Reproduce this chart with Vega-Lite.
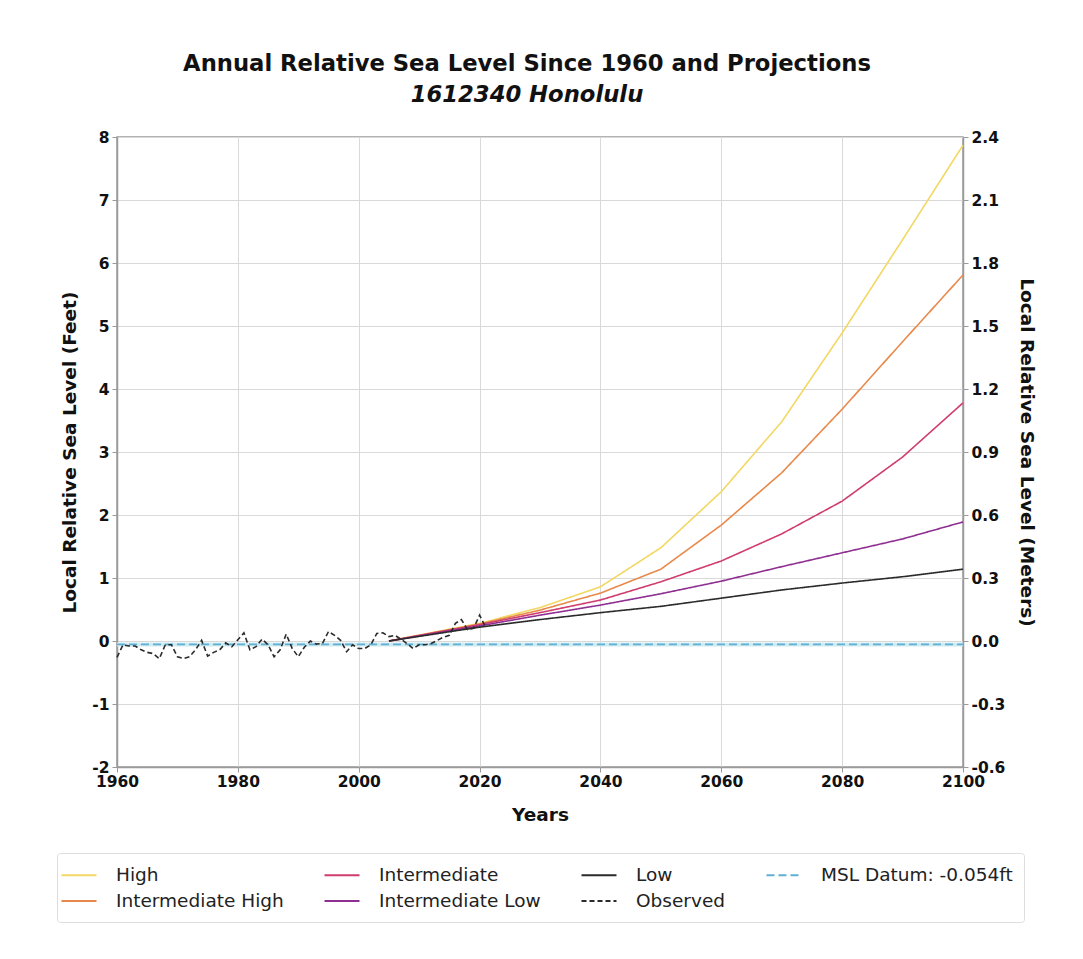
{
  "$schema": "https://vega.github.io/schema/vega-lite/v6.json",
  "width": 846,
  "height": 630,
  "autosize": {"type": "none"},
  "padding": {"left": 117, "top": 137, "right": 120, "bottom": 192},
  "background": "white",
  "config": {
    "font": "DejaVu Sans",
    "view": {"stroke": "#9a9a9a", "strokeWidth": 1.5},
    "axis": {
      "labelFont": "DejaVu Sans", "labelFontWeight": "bold", "labelFontSize": 15.5, "labelColor": "#111",
      "titleFont": "DejaVu Sans", "titleFontWeight": "bold", "titleFontSize": 18.5, "titleColor": "#111",
      "domainColor": "#9a9a9a", "domainWidth": 1.5, "tickColor": "#9a9a9a", "tickSize": 5,
      "gridColor": "#d9d9d9", "gridWidth": 1, "labelFlush": false
    }
  },
  "title": {
    "text": "Annual Relative Sea Level Since 1960 and Projections",
    "subtitle": "1612340 Honolulu",
    "fontSize": 22.7, "fontWeight": "bold", "color": "#111",
    "subtitleFontSize": 22.7, "subtitleFontStyle": "italic", "subtitleFontWeight": "bold", "subtitleColor": "#111",
    "subtitlePadding": 9,
    "anchor": "middle", "offset": 23, "dx": -13
  },
  "datasets": {
    "series": [
      {"series": "High", "year": 2005, "ft": 0.0},
      {"series": "High", "year": 2020, "ft": 0.28},
      {"series": "High", "year": 2030, "ft": 0.53},
      {"series": "High", "year": 2040, "ft": 0.86},
      {"series": "High", "year": 2050, "ft": 1.48},
      {"series": "High", "year": 2060, "ft": 2.37},
      {"series": "High", "year": 2070, "ft": 3.48},
      {"series": "High", "year": 2080, "ft": 4.89},
      {"series": "High", "year": 2090, "ft": 6.37},
      {"series": "High", "year": 2100, "ft": 7.87},
      {"series": "Intermediate High", "year": 2005, "ft": 0.0},
      {"series": "Intermediate High", "year": 2020, "ft": 0.27},
      {"series": "Intermediate High", "year": 2030, "ft": 0.49},
      {"series": "Intermediate High", "year": 2040, "ft": 0.76},
      {"series": "Intermediate High", "year": 2050, "ft": 1.14},
      {"series": "Intermediate High", "year": 2060, "ft": 1.84},
      {"series": "Intermediate High", "year": 2070, "ft": 2.67},
      {"series": "Intermediate High", "year": 2080, "ft": 3.68},
      {"series": "Intermediate High", "year": 2090, "ft": 4.75},
      {"series": "Intermediate High", "year": 2100, "ft": 5.81},
      {"series": "Intermediate", "year": 2005, "ft": 0.0},
      {"series": "Intermediate", "year": 2020, "ft": 0.26},
      {"series": "Intermediate", "year": 2030, "ft": 0.45},
      {"series": "Intermediate", "year": 2040, "ft": 0.65},
      {"series": "Intermediate", "year": 2050, "ft": 0.94},
      {"series": "Intermediate", "year": 2060, "ft": 1.27},
      {"series": "Intermediate", "year": 2070, "ft": 1.7},
      {"series": "Intermediate", "year": 2080, "ft": 2.22},
      {"series": "Intermediate", "year": 2090, "ft": 2.92},
      {"series": "Intermediate", "year": 2100, "ft": 3.78},
      {"series": "Intermediate Low", "year": 2005, "ft": 0.0},
      {"series": "Intermediate Low", "year": 2020, "ft": 0.24},
      {"series": "Intermediate Low", "year": 2030, "ft": 0.41},
      {"series": "Intermediate Low", "year": 2040, "ft": 0.57},
      {"series": "Intermediate Low", "year": 2050, "ft": 0.75},
      {"series": "Intermediate Low", "year": 2060, "ft": 0.95},
      {"series": "Intermediate Low", "year": 2070, "ft": 1.18},
      {"series": "Intermediate Low", "year": 2080, "ft": 1.4},
      {"series": "Intermediate Low", "year": 2090, "ft": 1.62},
      {"series": "Intermediate Low", "year": 2100, "ft": 1.89},
      {"series": "Low", "year": 2005, "ft": 0.0},
      {"series": "Low", "year": 2020, "ft": 0.22},
      {"series": "Low", "year": 2030, "ft": 0.34},
      {"series": "Low", "year": 2040, "ft": 0.45},
      {"series": "Low", "year": 2050, "ft": 0.55},
      {"series": "Low", "year": 2060, "ft": 0.68},
      {"series": "Low", "year": 2070, "ft": 0.81},
      {"series": "Low", "year": 2080, "ft": 0.92},
      {"series": "Low", "year": 2090, "ft": 1.02},
      {"series": "Low", "year": 2100, "ft": 1.14},
      {"series": "MSL Datum: -0.054ft", "year": 1960, "ft": -0.054},
      {"series": "MSL Datum: -0.054ft", "year": 2100, "ft": -0.054},
      {"series": "Observed", "year": 1960, "ft": -0.26},
      {"series": "Observed", "year": 1961, "ft": -0.06},
      {"series": "Observed", "year": 1962, "ft": -0.08},
      {"series": "Observed", "year": 1963, "ft": -0.08},
      {"series": "Observed", "year": 1964, "ft": -0.14},
      {"series": "Observed", "year": 1965, "ft": -0.18},
      {"series": "Observed", "year": 1966, "ft": -0.2},
      {"series": "Observed", "year": 1967, "ft": -0.28},
      {"series": "Observed", "year": 1968, "ft": -0.06},
      {"series": "Observed", "year": 1969, "ft": -0.06},
      {"series": "Observed", "year": 1970, "ft": -0.25},
      {"series": "Observed", "year": 1971, "ft": -0.28},
      {"series": "Observed", "year": 1972, "ft": -0.25},
      {"series": "Observed", "year": 1973, "ft": -0.14},
      {"series": "Observed", "year": 1974, "ft": 0.01},
      {"series": "Observed", "year": 1975, "ft": -0.24},
      {"series": "Observed", "year": 1976, "ft": -0.18},
      {"series": "Observed", "year": 1977, "ft": -0.14},
      {"series": "Observed", "year": 1978, "ft": -0.03},
      {"series": "Observed", "year": 1979, "ft": -0.09},
      {"series": "Observed", "year": 1980, "ft": 0.02},
      {"series": "Observed", "year": 1981, "ft": 0.13},
      {"series": "Observed", "year": 1982, "ft": -0.14},
      {"series": "Observed", "year": 1983, "ft": -0.09},
      {"series": "Observed", "year": 1984, "ft": 0.03},
      {"series": "Observed", "year": 1985, "ft": -0.06},
      {"series": "Observed", "year": 1986, "ft": -0.25},
      {"series": "Observed", "year": 1987, "ft": -0.14},
      {"series": "Observed", "year": 1988, "ft": 0.11},
      {"series": "Observed", "year": 1989, "ft": -0.12},
      {"series": "Observed", "year": 1990, "ft": -0.25},
      {"series": "Observed", "year": 1991, "ft": -0.1},
      {"series": "Observed", "year": 1992, "ft": 0.0},
      {"series": "Observed", "year": 1993, "ft": -0.05},
      {"series": "Observed", "year": 1994, "ft": -0.04},
      {"series": "Observed", "year": 1995, "ft": 0.15},
      {"series": "Observed", "year": 1996, "ft": 0.09},
      {"series": "Observed", "year": 1997, "ft": 0.01},
      {"series": "Observed", "year": 1998, "ft": -0.17},
      {"series": "Observed", "year": 1999, "ft": -0.06},
      {"series": "Observed", "year": 2000, "ft": -0.12},
      {"series": "Observed", "year": 2001, "ft": -0.12},
      {"series": "Observed", "year": 2002, "ft": -0.06},
      {"series": "Observed", "year": 2003, "ft": 0.12},
      {"series": "Observed", "year": 2004, "ft": 0.13},
      {"series": "Observed", "year": 2005, "ft": 0.07},
      {"series": "Observed", "year": 2006, "ft": 0.09},
      {"series": "Observed", "year": 2007, "ft": 0.03},
      {"series": "Observed", "year": 2008, "ft": -0.04},
      {"series": "Observed", "year": 2009, "ft": -0.12},
      {"series": "Observed", "year": 2010, "ft": -0.06},
      {"series": "Observed", "year": 2011, "ft": -0.06},
      {"series": "Observed", "year": 2012, "ft": -0.04},
      {"series": "Observed", "year": 2013, "ft": 0.01},
      {"series": "Observed", "year": 2014, "ft": 0.06},
      {"series": "Observed", "year": 2015, "ft": 0.09},
      {"series": "Observed", "year": 2016, "ft": 0.28},
      {"series": "Observed", "year": 2017, "ft": 0.34},
      {"series": "Observed", "year": 2018, "ft": 0.18},
      {"series": "Observed", "year": 2019, "ft": 0.2},
      {"series": "Observed", "year": 2020, "ft": 0.41},
      {"series": "Observed", "year": 2021, "ft": 0.22}
    ],
    "meters": [{"m": -0.6}, {"m": 2.4}]
  },
  "layer": [
    {
      "layer": [
        {
          "data": {"name": "series"},
          "transform": [{"filter": "datum.series === 'MSL Datum: -0.054ft'"}],
          "mark": {"type": "line", "color": "#cfeaf1", "strokeWidth": 4},
          "encoding": {
            "x": {"field": "year", "type": "quantitative", "scale": {"domain": [1960, 2100], "nice": false, "zero": false},
              "axis": {"title": "Years", "values": [1960, 1980, 2000, 2020, 2040, 2060, 2080, 2100], "format": "d", "labelPadding": 2, "titlePadding": 16, "grid": true}},
            "y": {"field": "ft", "type": "quantitative", "scale": {"domain": [-2, 8], "nice": false, "zero": false},
              "axis": {"title": "Local Relative Sea Level (Feet)", "values": [-2, -1, 0, 1, 2, 3, 4, 5, 6, 7, 8], "labelExpr": "toString(datum.value)", "labelPadding": 3, "titlePadding": 12, "grid": true}}
          }
        },
        {
          "data": {"name": "series"},
          "mark": {"type": "line", "strokeWidth": 1.6},
          "encoding": {
            "x": {"field": "year", "type": "quantitative"},
            "y": {"field": "ft", "type": "quantitative"},
            "color": {
              "field": "series", "type": "nominal",
              "scale": {
                "domain": ["High", "Intermediate", "Low", "MSL Datum: -0.054ft", "Intermediate High", "Intermediate Low", "Observed"],
                "range": ["#f3d763", "#cf3c6e", "#2b2b2b", "#5fb0d3", "#e8894b", "#8e2f91", "#2b2b2b"]
              },
              "legend": {
                "title": null, "orient": "none", "legendX": -60, "legendY": 716,
                "direction": "horizontal", "columns": 4, "columnPadding": 36, "rowPadding": 5,
                "symbolType": "M-1.75,0H1.75", "symbolSize": 400, "symbolStrokeWidth": 2,
                "labelFontSize": 18.5, "labelFont": "DejaVu Sans", "labelColor": "#222", "labelOffset": 26,
                "labelLimit": 400,
                "padding": 11, "strokeColor": "#dddddd", "fillColor": "white", "cornerRadius": 3
              }
            },
            "strokeDash": {
              "field": "series", "type": "nominal",
              "scale": {
                "domain": ["High", "Intermediate", "Low", "MSL Datum: -0.054ft", "Intermediate High", "Intermediate Low", "Observed"],
                "range": [[1, 0], [1, 0], [1, 0], [8, 4], [1, 0], [1, 0], [5, 3]]
              },
              "legend": null
            }
          }
        }
      ]
    },
    {
      "data": {"name": "meters"},
      "mark": {"type": "point", "opacity": 0},
      "encoding": {
        "y": {
          "field": "m", "type": "quantitative",
          "scale": {"domain": [-0.6, 2.4], "nice": false, "zero": false},
          "axis": {"orient": "right", "title": "Local Relative Sea Level (Meters)", "titleAngle": 90, "values": [-0.6, -0.3, 0, 0.3, 0.6, 0.9, 1.2, 1.5, 1.8, 2.1, 2.4], "labelExpr": "replace(format(datum.value, '.1f'), '\u2212', '-')", "labelPadding": 3, "titlePadding": 12, "grid": false}
        }
      }
    }
  ],
  "resolve": {"scale": {"y": "independent"}}
}
